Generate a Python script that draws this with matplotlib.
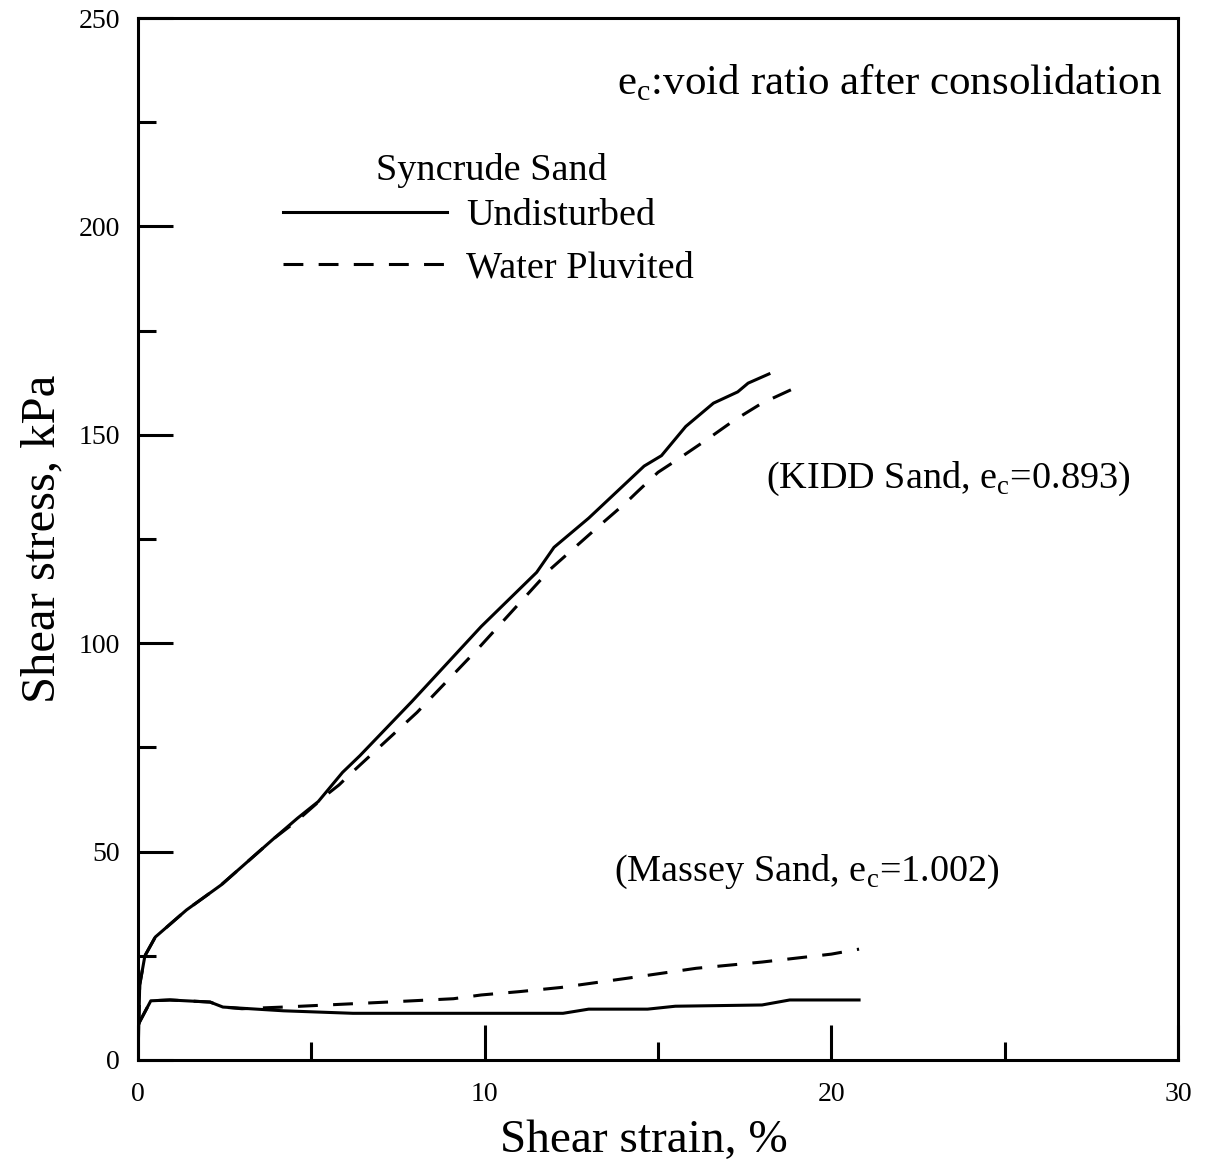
import numpy as np
import matplotlib.pyplot as plt
from matplotlib.ticker import MultipleLocator

plt.rcParams['font.family'] = ['Liberation Serif', 'DejaVu Serif']
plt.rcParams['mathtext.fontset'] = 'custom'
plt.rcParams['mathtext.rm'] = 'Liberation Serif'

# KIDD sand curves
kidd_und_x = [0, 0.05, 0.2, 0.5, 1.4, 2.4, 3.9, 4.6, 5.2, 5.9, 6.4, 7.9, 9.9, 11.5, 12.0, 13.0, 14.6, 15.1, 15.8, 16.6, 17.3, 17.6, 18.2]
kidd_und_y = [0, 18, 25, 29.5, 36, 42, 53, 58, 62, 69, 73, 86, 104, 117, 123, 130, 142.5, 145, 152, 157.6, 160.3, 162.4, 164.6]
kidd_wp_x = [0, 0.05, 0.2, 0.5, 1.4, 2.4, 3.9, 4.6, 5.45, 5.8, 6.2, 8.05, 9.8, 11.9, 13.2, 14.1, 14.4, 15.0, 15.55, 16.4, 17.2, 18.0, 19.2]
kidd_wp_y = [0, 18, 25, 29.5, 36, 42, 53, 57.5, 63.7, 66, 69.2, 83.4, 98.6, 117.8, 127.4, 133.9, 136.3, 141, 144, 148.8, 153.5, 157.6, 162.2]

# Massey sand curves
massey_und_x = [0, 0.37, 0.92, 2.08, 2.45, 4.2, 6.2, 9.95, 12.26, 13.0, 14.7, 15.5, 18.0, 18.8, 20.8]
massey_und_y = [8.4, 14.2, 14.4, 13.9, 12.7, 11.8, 11.2, 11.2, 11.2, 12.2, 12.2, 12.9, 13.2, 14.4, 14.4]
massey_wp_x = [0, 0.37, 0.92, 2.08, 2.45, 3.0, 4.2, 7.2, 9.1, 9.9, 11.0, 12.2, 14.1, 16.1, 18.0, 20.0, 20.8]
massey_wp_y = [8.4, 14.2, 14.4, 13.9, 12.7, 12.3, 12.7, 13.9, 14.7, 15.6, 16.4, 17.4, 19.6, 22.0, 23.5, 25.4, 26.6]

lw = 2.2
dash = (0, (6.5, 5))

fig = plt.figure(figsize=(12.05, 11.71), dpi=100)
ax = fig.add_axes([0.1145, 0.0948, 0.8631, 0.8898])

l1, = ax.plot(kidd_und_x, kidd_und_y, color='black', lw=lw, label='Undisturbed')
l2, = ax.plot(kidd_wp_x, kidd_wp_y, color='black', lw=lw, linestyle=dash, label='Water Pluvited')
ax.plot(massey_und_x, massey_und_y, color='black', lw=lw)
ax.plot(massey_wp_x, massey_wp_y, color='black', lw=lw, linestyle=dash)

ax.set_xlim(0, 30)
ax.set_ylim(0, 250)
ax.xaxis.set_major_locator(MultipleLocator(10))
ax.xaxis.set_minor_locator(MultipleLocator(5))
ax.yaxis.set_major_locator(MultipleLocator(50))
ax.yaxis.set_minor_locator(MultipleLocator(25))
ax.tick_params(which='both', direction='in', width=2.2, top=False, right=False)
ax.tick_params(which='major', length=25, labelsize=20)
ax.tick_params(which='minor', length=13)
ax.tick_params(axis='x', which='major', pad=16)
ax.tick_params(axis='y', which='major', pad=13)
for sp in ax.spines.values():
    sp.set_linewidth(2.2)

ax.set_xlabel('Shear strain, %', fontsize=34, labelpad=9)
ax.xaxis.label.set_x(0.486)
ax.set_ylabel('Shear stress, kPa', fontsize=35, labelpad=10)

ax.text(0.985, 0.938, r'e$_\mathrm{c}$:void ratio after consolidation', transform=ax.transAxes,
        fontsize=31, ha='right', va='center')
ax.text(0.954, 0.558, r'(KIDD Sand, e$_\mathrm{c}$=0.893)', transform=ax.transAxes,
        fontsize=27.5, ha='right', va='center')
ax.text(0.829, 0.181, r'(Massey Sand, e$_\mathrm{c}$=1.002)', transform=ax.transAxes,
        fontsize=27.5, ha='right', va='center')

# legend title drawn as its own text so the gap can match
ax.text(0.3394, 0.854, 'Syncrude Sand', transform=ax.transAxes,
        fontsize=27.5, ha='center', va='center')
leg = ax.legend(handles=[l1, l2], loc='upper left',
                bbox_to_anchor=(0.139, 0.827), frameon=False, fontsize=27.5,
                handlelength=4.3, handletextpad=0.5,
                labelspacing=0.46, borderpad=0, borderaxespad=0)

fig.savefig('out.png', dpi=100)
